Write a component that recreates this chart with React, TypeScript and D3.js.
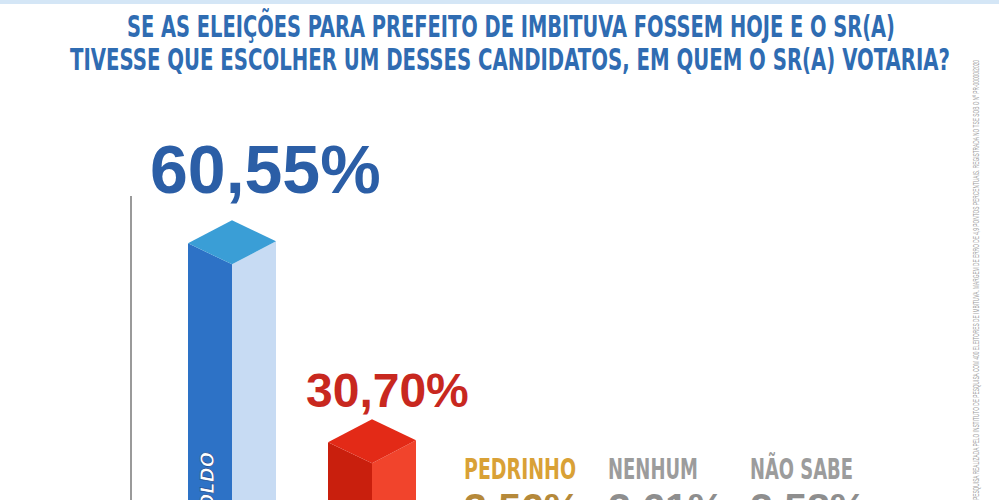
import * as d3 from 'd3';
import React, { useRef, useEffect } from 'react';

const titleLines = [
  'SE AS ELEIÇÕES PARA PREFEITO DE IMBITUVA FOSSEM HOJE E O SR(A)',
  'TIVESSE QUE ESCOLHER UM DESSES CANDIDATOS, EM QUEM O SR(A) VOTARIA?',
];
const candidates = ['BERTOLDO', 'CANDIDATO 2', 'PEDRINHO', 'NENHUM', 'NÃO SABE'];
const values = [60.55, 30.7, 3.56, 2.61, 2.58];
const valueLabels = ['60,55%', '30,70%', '3,56%', '2,61%', '2,58%'];
const sourceNote =
  'PESQUISA REALIZADA PELO INSTITUTO DE PESQUISA COM 400 ELEITORES DE IMBITUVA. MARGEM DE ERRO DE 4,9 PONTOS PERCENTUAIS. REGISTRADA NO TSE SOB O Nº PR-00000/2020';

const barColors = [
  { front: '#2d72c6', side: '#c7dbf3', top: '#3a9ed6', label: '#2b5ea6' },
  { front: '#c91f0d', side: '#f1442c', top: '#e32a17', label: '#c8281f' },
];
const smallColors = ['#d9a136', '#9c9c9c', '#9c9c9c'];

const W = 999;
const H = 500;

const App: React.FC = () => {
  const ref = useRef<SVGSVGElement>(null);

  useEffect(() => {
    if (!ref.current) return;
    const svg = d3.select(ref.current);
    svg.selectAll('*').remove();

    svg.append('rect').attr('width', W).attr('height', H).attr('fill', '#ffffff');
    // thin strip at the very top
    svg.append('rect').attr('width', W).attr('height', 4).attr('fill', '#d4e6f6');

    const condensed = "'Liberation Sans Narrow', 'DejaVu Sans Condensed', 'Liberation Sans', sans-serif";

    // title
    const titleX = [[127, 895], [70, 950]];
    const titleY = [37, 70];
    titleLines.forEach((line, i) => {
      svg.append('text')
        .attr('x', titleX[i][0])
        .attr('y', titleY[i])
        .attr('textLength', titleX[i][1] - titleX[i][0])
        .attr('lengthAdjust', 'spacingAndGlyphs')
        .attr('font-family', condensed)
        .attr('font-weight', 'bold')
        .attr('font-size', 30)
        .attr('fill', '#2f6cb2')
        .text(line);
    });

    const x = d3.scaleBand<string>()
      .domain(candidates)
      .range([188, 888])
      .padding(0);

    // top-left corner of the bar at value
    const y = d3.scaleLinear()
      .domain([0, 60])
      .range([647, 247]);

    const w = 44;
    const dy = 21;

    // axis line
    svg.append('line')
      .attr('x1', 131).attr('x2', 131)
      .attr('y1', 196).attr('y2', H)
      .attr('stroke', '#9a9a9a')
      .attr('stroke-width', 2);

    const bottom = y(0);
    const bars = candidates.slice(0, 2);
    bars.forEach((c, i) => {
      const x0 = x(c) ?? 0;
      const t = y(values[i]);
      const col = barColors[i];
      const g = svg.append('g');
      g.append('polygon')
        .attr('points', [[x0, t], [x0 + w, t + dy], [x0 + w, bottom], [x0, bottom]].map(p => p.join(',')).join(' '))
        .attr('fill', col.front);
      g.append('polygon')
        .attr('points', [[x0 + w, t + dy], [x0 + 2 * w, t - 2], [x0 + 2 * w, bottom], [x0 + w, bottom]].map(p => p.join(',')).join(' '))
        .attr('fill', col.side);
      g.append('polygon')
        .attr('points', [[x0, t], [x0 + w, t - dy - 2], [x0 + 2 * w, t - 2], [x0 + w, t + dy]].map(p => p.join(',')).join(' '))
        .attr('fill', col.top);

      const fs = i === 0 ? 68 : 48;
      svg.append('text')
        .attr('x', i === 0 ? x0 - 38 : x0 - 22)
        .attr('y', t - 0.74 * fs)
        .attr('font-family', "'Liberation Sans', Arial, sans-serif")
        .attr('font-weight', 'bold')
        .attr('font-size', fs)
        .attr('fill', col.label)
        .text(valueLabels[i]);
    });

    // name on the blue bar
    const bx = (x(candidates[0]) ?? 0) + 20;
    svg.append('text')
      .attr('transform', `translate(${bx},452) rotate(-90)`)
      .attr('text-anchor', 'end')
      .attr('dominant-baseline', 'middle')
      .attr('font-family', condensed)
      .attr('font-weight', 'bold')
      .attr('font-style', 'italic')
      .attr('font-size', 20)
      .attr('fill', '#ffffff')
      .attr('stroke', '#1d4f95')
      .attr('stroke-width', 0.8)
      .text(candidates[0]);

    // small categories: name and value
    const nameWidths = [112, 90, 103];
    candidates.slice(2).forEach((c, i) => {
      const x0 = (x(c) ?? 0) - 4 + (i === 0 ? 0 : 2 + i * 2);
      svg.append('text')
        .attr('x', x0)
        .attr('y', 479)
        .attr('textLength', nameWidths[i])
        .attr('lengthAdjust', 'spacingAndGlyphs')
        .attr('font-family', condensed)
        .attr('font-weight', 'bold')
        .attr('font-size', 29)
        .attr('fill', smallColors[i])
        .text(c);
      svg.append('text')
        .attr('x', x0)
        .attr('y', 522)
        .attr('font-family', "'Liberation Sans', Arial, sans-serif")
        .attr('font-weight', 'bold')
        .attr('font-size', 41)
        .attr('fill', i === 0 ? '#b5893a' : '#8e8e8e')
        .text(valueLabels[i + 2]);
    });

    // vertical source note at the right edge
    svg.append('text')
      .attr('transform', `translate(979,500) rotate(-90)`)
      .attr('font-family', "'Liberation Sans', Arial, sans-serif")
      .attr('font-size', 9)
      .attr('fill', '#a0a0a0')
      .attr('textLength', 440)
      .attr('lengthAdjust', 'spacingAndGlyphs')
      .text(sourceNote);
  }, []);

  return (
    <svg ref={ref} width={W} height={H} style={{ position: 'absolute', left: 0, top: 0 }} />
  );
};

export default App;
